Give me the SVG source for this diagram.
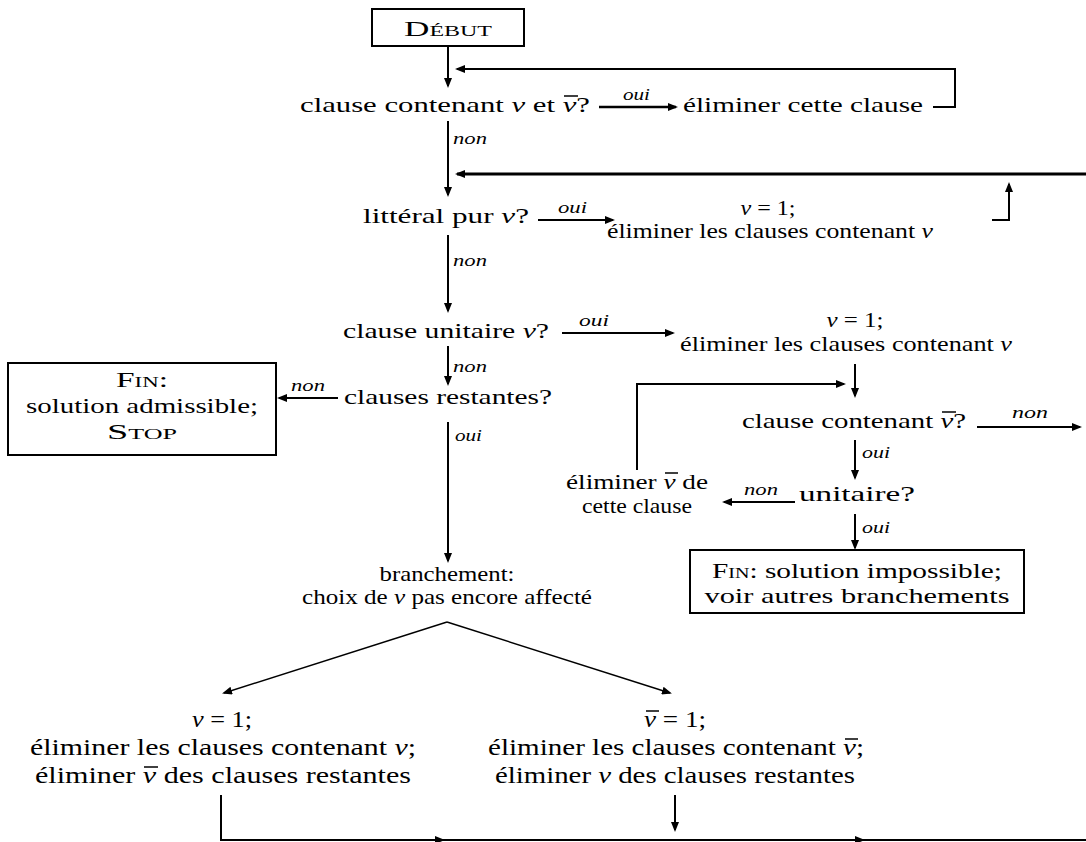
<svg xmlns="http://www.w3.org/2000/svg" width="1086" height="842" viewBox="0 0 1086 842">
<style>
.t{font-family:"Liberation Serif","Times New Roman",serif;font-size:22px;fill:#000}
.b{font-size:23px}
.m{font-style:italic}
.sc{font-variant:small-caps}
.lb{font-family:"Liberation Serif","Times New Roman",serif;font-style:italic;font-size:17px;fill:#000}
.c{fill:none;stroke:#000;stroke-width:2}
.k{stroke-width:3}
.th{stroke-width:1.4}
.ov{stroke:#000;stroke-width:1.5}
.bx{fill:#fff;stroke:#000;stroke-width:2}
</style>
<defs>
<marker id="ah" viewBox="0 0 10 8" refX="8" refY="4" markerWidth="10" markerHeight="8" orient="auto" markerUnits="userSpaceOnUse">
<path d="M0,0 L10,4 L0,8 z" fill="#000"/>
</marker>
</defs>
<g id="connectors">
<path class="c" d="M448,46 V86" marker-end="url(#ah)"/>
<path class="c" d="M933,107 H955 V69 H457" marker-end="url(#ah)"/>
<path class="c" style="stroke-width:2.5" d="M599,107 H676" marker-end="url(#ah)"/>
<path class="c" d="M448,121 V195" marker-end="url(#ah)"/>
<path class="c k" d="M1086,174 H457" marker-end="url(#ah)"/>
<path class="c" d="M538,220 H613" marker-end="url(#ah)"/>
<path class="c" d="M992,220 H1009 V184" marker-end="url(#ah)"/>
<path class="c" d="M448,235 V311" marker-end="url(#ah)"/>
<path class="c" d="M562,333 H673" marker-end="url(#ah)"/>
<path class="c" d="M448,346 V384" marker-end="url(#ah)"/>
<path class="c" d="M338,398 H279" marker-end="url(#ah)"/>
<path class="c" d="M448,422 V561" marker-end="url(#ah)"/>
<path class="c th" d="M447,622 L224,693" marker-end="url(#ah)"/>
<path class="c th" d="M447,622 L670,693" marker-end="url(#ah)"/>
<path class="c" d="M855,364 V396" marker-end="url(#ah)"/>
<path class="c" d="M637,470 V384 H844" marker-end="url(#ah)"/>
<path class="c" d="M977,427 H1080" marker-end="url(#ah)"/>
<path class="c" d="M855,440 V478" marker-end="url(#ah)"/>
<path class="c" d="M795,502 H724" marker-end="url(#ah)"/>
<path class="c" d="M855,514 V548" marker-end="url(#ah)"/>
<path class="c" d="M221,795 V840 H443" marker-end="url(#ah)"/>
<path class="c" d="M443,840 H863" marker-end="url(#ah)"/>
<path class="c" d="M863,840 H1086"/>
<path class="c" d="M675,795 V830" marker-end="url(#ah)"/>
<text class="lb" x="623" y="100" textLength="27" lengthAdjust="spacingAndGlyphs">oui</text>
<text class="lb" x="453" y="144" textLength="34" lengthAdjust="spacingAndGlyphs">non</text>
<text class="lb" x="558" y="213" textLength="29" lengthAdjust="spacingAndGlyphs">oui</text>
<text class="lb" x="453" y="266" textLength="34" lengthAdjust="spacingAndGlyphs">non</text>
<text class="lb" x="579" y="326" textLength="30" lengthAdjust="spacingAndGlyphs">oui</text>
<text class="lb" x="453" y="372" textLength="34" lengthAdjust="spacingAndGlyphs">non</text>
<text class="lb" x="291" y="391" textLength="34" lengthAdjust="spacingAndGlyphs">non</text>
<text class="lb" x="455" y="441" textLength="27" lengthAdjust="spacingAndGlyphs">oui</text>
<text class="lb" x="1012" y="418" textLength="36" lengthAdjust="spacingAndGlyphs">non</text>
<text class="lb" x="862" y="458" textLength="28" lengthAdjust="spacingAndGlyphs">oui</text>
<text class="lb" x="744" y="495" textLength="34" lengthAdjust="spacingAndGlyphs">non</text>
<text class="lb" x="862" y="533" textLength="28" lengthAdjust="spacingAndGlyphs">oui</text>
</g>
<g id="n_debut">
<rect class="bx" x="372" y="9" width="152" height="37"/>
<text class="t sc" x="448" y="36" text-anchor="middle" textLength="88" lengthAdjust="spacingAndGlyphs">Début</text>
</g>
<g id="n_q1">
<text class="t" x="300" y="112" textLength="290" lengthAdjust="spacingAndGlyphs">clause contenant <tspan class="m">v</tspan> et <tspan class="m">v</tspan>?</text>
<line class="ov" x1="564" y1="96" x2="578" y2="96"/>
</g>
<g id="n_elim1">
<text class="t" x="683" y="112" textLength="240" lengthAdjust="spacingAndGlyphs">éliminer cette clause</text>
</g>
<g id="n_q2">
<text class="t" x="363" y="223" textLength="166" lengthAdjust="spacingAndGlyphs">littéral pur <tspan class="m">v</tspan>?</text>
</g>
<g id="n_set1">
<text class="t" x="768" y="215" text-anchor="middle" textLength="55" lengthAdjust="spacingAndGlyphs"><tspan class="m">v</tspan> = 1;</text>
<text class="t" x="770" y="238" text-anchor="middle" textLength="326" lengthAdjust="spacingAndGlyphs">éliminer les clauses contenant <tspan class="m">v</tspan></text>
</g>
<g id="n_q3">
<text class="t" x="343" y="338" textLength="206" lengthAdjust="spacingAndGlyphs">clause unitaire <tspan class="m">v</tspan>?</text>
</g>
<g id="n_set2">
<text class="t" x="855" y="327" text-anchor="middle" textLength="57" lengthAdjust="spacingAndGlyphs"><tspan class="m">v</tspan> = 1;</text>
<text class="t" x="846" y="351" text-anchor="middle" textLength="332" lengthAdjust="spacingAndGlyphs">éliminer les clauses contenant <tspan class="m">v</tspan></text>
</g>
<g id="n_q4">
<text class="t" x="344" y="404" textLength="208" lengthAdjust="spacingAndGlyphs">clauses restantes?</text>
</g>
<g id="n_fin1">
<rect class="bx" x="8" y="363" width="268" height="92"/>
<text class="t" x="142" y="387" text-anchor="middle" textLength="52" lengthAdjust="spacingAndGlyphs"><tspan class="sc">Fin</tspan>:</text>
<text class="t" x="142" y="413" text-anchor="middle" textLength="232" lengthAdjust="spacingAndGlyphs">solution admissible;</text>
<text class="t sc" x="142" y="439" text-anchor="middle" textLength="70" lengthAdjust="spacingAndGlyphs">Stop</text>
</g>
<g id="n_branch">
<text class="t" x="447" y="581" text-anchor="middle" textLength="135" lengthAdjust="spacingAndGlyphs">branchement:</text>
<text class="t" x="447" y="604" text-anchor="middle" textLength="290" lengthAdjust="spacingAndGlyphs">choix de <tspan class="m">v</tspan> pas encore affecté</text>
</g>
<g id="n_q5">
<text class="t" x="742" y="428" textLength="224" lengthAdjust="spacingAndGlyphs">clause contenant <tspan class="m">v</tspan>?</text>
<line class="ov" x1="942" y1="412" x2="956" y2="412"/>
</g>
<g id="n_unit">
<text class="t" x="799" y="501" textLength="116" lengthAdjust="spacingAndGlyphs">unitaire?</text>
</g>
<g id="n_elim2">
<text class="t" x="637" y="489" text-anchor="middle" textLength="142" lengthAdjust="spacingAndGlyphs">éliminer <tspan class="m">v</tspan> de</text>
<line class="ov" x1="665" y1="473" x2="678" y2="473"/>
<text class="t" x="637" y="513" text-anchor="middle" textLength="110" lengthAdjust="spacingAndGlyphs">cette clause</text>
</g>
<g id="n_fin2">
<rect class="bx" x="690" y="550" width="334" height="63"/>
<text class="t" x="857" y="578" text-anchor="middle" textLength="290" lengthAdjust="spacingAndGlyphs"><tspan class="sc">Fin</tspan>: solution impossible;</text>
<text class="t" x="857" y="603" text-anchor="middle" textLength="305" lengthAdjust="spacingAndGlyphs">voir autres branchements</text>
</g>
<g id="n_left">
<text class="t b" x="222" y="727" text-anchor="middle" textLength="60" lengthAdjust="spacingAndGlyphs"><tspan class="m">v</tspan> = 1;</text>
<text class="t b" x="223" y="755" text-anchor="middle" textLength="386" lengthAdjust="spacingAndGlyphs">éliminer les clauses contenant <tspan class="m">v</tspan>;</text>
<text class="t b" x="223" y="783" text-anchor="middle" textLength="376" lengthAdjust="spacingAndGlyphs">éliminer <tspan class="m">v</tspan> des clauses restantes</text>
<line class="ov" x1="144" y1="767" x2="158" y2="767"/>
</g>
<g id="n_right">
<text class="t b" x="675" y="727" text-anchor="middle" textLength="62" lengthAdjust="spacingAndGlyphs"><tspan class="m">v</tspan> = 1;</text>
<line class="ov" x1="646" y1="711" x2="659" y2="711"/>
<text class="t b" x="676" y="755" text-anchor="middle" textLength="376" lengthAdjust="spacingAndGlyphs">éliminer les clauses contenant <tspan class="m">v</tspan>;</text>
<line class="ov" x1="845" y1="739" x2="858" y2="739"/>
<text class="t b" x="675" y="783" text-anchor="middle" textLength="360" lengthAdjust="spacingAndGlyphs">éliminer <tspan class="m">v</tspan> des clauses restantes</text>
</g>
</svg>
